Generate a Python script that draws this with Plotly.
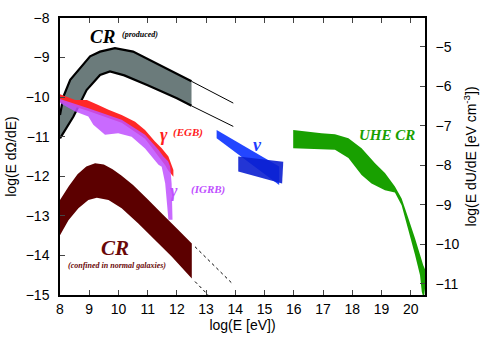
import plotly.graph_objs as go

# CR (produced) band, upper and lower boundary
crp_x_hi = [8, 8.12, 8.35, 8.69, 9.03, 9.37, 9.88, 10.5, 11, 11.5, 12, 12.5]
crp_hi = [-10.45, -9.98, -9.56, -9.27, -8.97, -8.85, -8.76, -8.85, -9.04, -9.22, -9.41, -9.6]
crp_x_lo = [8, 8.2, 8.46, 8.91, 9.37, 9.71, 10.2, 11, 12, 12.5]
crp_lo = [-11.04, -10.8, -10.49, -9.82, -9.44, -9.35, -9.45, -9.7, -10.03, -10.22]
crp_ext_x = [12.5, 13.93]
crp_ext_hi = [-9.6, -10.15]
crp_ext_lo = [-10.22, -10.74]

# gamma EGB
egb_x_hi = [8, 8.52, 8.92, 9.31, 9.66, 10.11, 10.57, 10.91, 11.25, 11.48, 11.71, 11.88, 11.88]
egb_hi = [-9.93, -10.07, -10.07, -10.2, -10.32, -10.45, -10.62, -10.83, -11.12, -11.29, -11.5, -11.84, -12.01]
egb_x_lo = [11.7, 11.6, 11.25, 10.91, 10.11, 8.97, 8]
egb_lo = [-11.85, -11.72, -11.38, -11.05, -10.65, -10.35, -10.12]

# gamma IGRB
igrb_x_hi = [8, 8.97, 10.11, 10.91, 11.37, 11.54, 11.7, 11.77, 11.82, 11.85]
igrb_hi = [-10.05, -10.28, -10.57, -10.95, -11.33, -11.5, -11.62, -11.75, -12.18, -13.1]
igrb_x_lo = [11.71, 11.6, 11.48, 11.37, 10.91, 10.45, 9.99, 9.54, 9.14, 8.97, 8.52, 8]
igrb_lo = [-13.1, -12.18, -11.76, -11.71, -11.3, -11.0, -10.91, -10.95, -10.7, -10.49, -10.36, -10.15]

# CR confined in normal galaxies
crc_x_hi = [8, 8.3, 8.6, 8.9, 9.2, 9.5, 9.8, 10.1, 10.5, 11, 11.5, 12, 12.51]
crc_hi = [-12.6, -12.25, -11.95, -11.75, -11.67, -11.7, -11.82, -11.98, -12.22, -12.58, -12.95, -13.32, -13.7]
crc_x_lo = [8, 8.29, 8.63, 8.97, 9.26, 9.66, 10.11, 10.68, 11.25, 11.82, 12.51]
crc_lo = [-13.49, -13.11, -12.81, -12.6, -12.54, -12.6, -12.81, -13.19, -13.61, -14.03, -14.58]
crc_ext_x_hi = [12.62, 13.88]
crc_ext_hi = [-13.78, -14.7]
crc_ext_x_lo = [12.62, 13.07]
crc_ext_lo = [-14.66, -15.0]

# neutrinos
nu1_x = [13.36, 15.5, 15.5, 13.36]
nu1_y = [-10.83, -11.75, -12.22, -11.04]
nu2_x = [14.1, 15.64, 15.6, 14.1]
nu2_y = [-11.5, -11.63, -12.18, -11.88]

# UHE CR
uhe_x_hi = [15.98, 16.95, 17.41, 17.87, 18.32, 18.78, 19.12, 19.46, 19.69, 19.92, 20.15, 20.43, 20.55]
uhe_hi = [-10.83, -10.91, -10.94, -11.04, -11.29, -11.67, -11.92, -12.26, -12.56, -13.06, -13.57, -14.25, -14.45]
uhe_x_lo = [20.45, 20.38, 20.32, 20.15, 19.92, 19.69, 19.46, 19.12, 18.66, 18.32, 17.87, 17.41, 15.98]
uhe_lo = [-15.1, -14.92, -14.5, -13.99, -13.36, -12.73, -12.41, -12.35, -12.18, -11.97, -11.54, -11.33, -11.29]

x_ticks = list(range(8, 21))
y_ticks = list(range(-15, -7))
y2_ticks = list(range(-11, -4))


def band(xh, yh, xl, yl, color, opacity=1.0):
    # polygon: upper edge left->right, lower edge back
    lx = list(xl)
    ly = list(yl)
    if lx[0] < lx[-1]:
        lx = lx[::-1]
        ly = ly[::-1]
    return go.Scatter(x=list(xh) + lx, y=list(yh) + ly, fill='toself', fillcolor=color,
                      mode='none', opacity=opacity, hoverinfo='skip', showlegend=False)


def line(x, y, width=1, dash='solid'):
    return go.Scatter(x=x, y=y, mode='lines', line=dict(color='black', width=width, dash=dash),
                      hoverinfo='skip', showlegend=False)


data = [
    band(crp_x_hi, crp_hi, crp_x_lo, crp_lo, '#6b7b7b'),
    line(crp_x_hi, crp_hi, 2.2),
    line(crp_x_lo, crp_lo, 2.2),
    line(crp_ext_x, crp_ext_hi, 1),
    line(crp_ext_x, crp_ext_lo, 1),
    band(egb_x_hi, egb_hi, egb_x_lo, egb_lo, '#ff2828'),
    band(igrb_x_hi, igrb_hi, igrb_x_lo, igrb_lo, '#c050ff', 0.85),
    band(crc_x_hi, crc_hi, crc_x_lo, crc_lo, '#5c0000'),
    line(crc_ext_x_hi, crc_ext_hi, 1, 'dot'),
    line(crc_ext_x_lo, crc_ext_lo, 1, 'dot'),
    go.Scatter(x=nu1_x, y=nu1_y, fill='toself', fillcolor='#2346ff', mode='none',
               hoverinfo='skip', showlegend=False),
    go.Scatter(x=nu2_x, y=nu2_y, fill='toself', fillcolor='#0b1fd0', mode='none', opacity=0.9,
               hoverinfo='skip', showlegend=False),
    band(uhe_x_hi, uhe_hi, uhe_x_lo, uhe_lo, '#18a000'),
    # dummy trace for the right axis
    go.Scatter(x=[8], y=[-11], yaxis='y2', mode='markers', marker=dict(opacity=0),
               hoverinfo='skip', showlegend=False),
]

serif = 'Liberation Serif'


def label(x, y, text, color, size):
    return dict(x=x, y=y, xref='x', yref='y', text='<b><i>' + text + '</i></b>', showarrow=False,
                font=dict(family=serif, size=size, color=color))


annotations = [
    label(9.47, -8.47, 'CR', 'black', 19),
    label(10.74, -8.42, '(produced)', 'black', 8),
    label(11.55, -10.95, 'γ', '#ff2020', 18),
    label(12.38, -10.9, '(EGB)', '#ff2020', 11),
    label(11.9, -12.37, 'γ', '#c050ff', 18),
    label(13.08, -12.33, '(IGRB)', '#c050ff', 11),
    label(14.75, -11.2, 'ν', '#1e3cff', 18),
    label(19.2, -10.95, 'UHE CR', '#18a000', 15),
    label(9.89, -13.8, 'CR', '#6a0808', 21),
    label(9.96, -14.25, '(confined in normal galaxies)', '#6a0808', 8),
]

axis_font = dict(family='Liberation Sans', size=14, color='black')
title_font = dict(family='Liberation Sans', size=14, color='black')

layout = go.Layout(
    template='none',
    width=485, height=339,
    margin=dict(l=60, r=60, t=18, b=44),
    paper_bgcolor='white', plot_bgcolor='white',
    font=axis_font,
    xaxis=dict(range=[8, 20.49], tickvals=x_ticks, ticks='inside', ticklen=5, tickwidth=1.2,
               showline=True, linecolor='black', linewidth=1.5, mirror='ticks', showgrid=False,
               zeroline=False, tickfont=axis_font, automargin=False,
               title=dict(text='log(E [eV])', font=title_font, standoff=2)),
    yaxis=dict(range=[-15, -8], tickvals=y_ticks, ticks='inside', ticklen=5, tickwidth=1.2,
               showline=True, linecolor='black', linewidth=1.5, showgrid=False, zeroline=False,
               tickfont=axis_font, ticklabelstandoff=6, automargin=False,
               title=dict(text='log(E dΩ/dE)', font=title_font, standoff=6)),
    yaxis2=dict(range=[-11.28, -4.27], tickvals=y2_ticks, ticks='inside', ticklen=5, tickwidth=1.2,
                overlaying='y', side='right', showline=True, linecolor='black', linewidth=1.5,
                showgrid=False, zeroline=False, tickfont=axis_font, ticklabelstandoff=6,
                automargin=False,
                title=dict(text='log(E dU/dE [eV cm<sup>-3</sup>])', font=title_font, standoff=8)),
    annotations=annotations,
)

fig = go.Figure(data=data, layout=layout)
# drop the default page margin so the figure sits at the window corner
fig.write_html("out.html", config={'displayModeBar': False},
               post_script="document.body.style.margin='0';")
